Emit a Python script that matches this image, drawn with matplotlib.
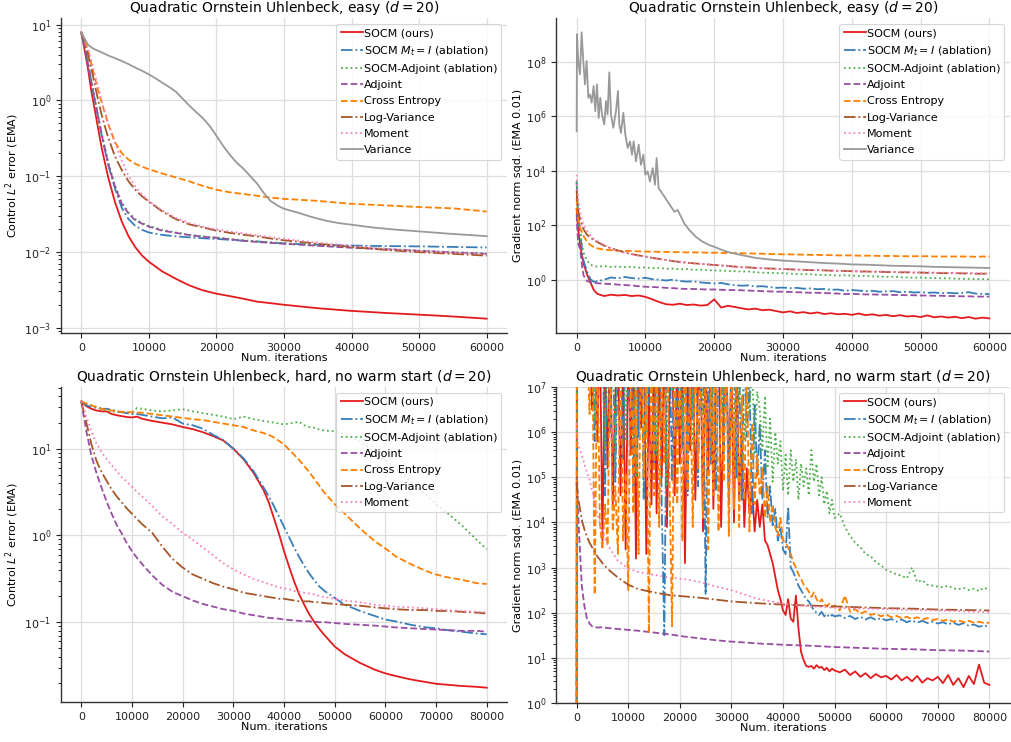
import numpy as np
import matplotlib
matplotlib.use("Agg")
import matplotlib.pyplot as plt

# ---------------------------------------------------------------------------
# Method labels, colours and line styles
# ---------------------------------------------------------------------------
labels = ["SOCM (ours)", "SOCM $M_t=I$ (ablation)", "SOCM-Adjoint (ablation)",
          "Adjoint", "Cross Entropy", "Log-Variance", "Moment", "Variance"]
colors = ["#e41a1c", "#377eb8", "#4daf4a", "#984ea3", "#ff7f00", "#a65628",
          "#f781bf", "#999999"]
styles = ["-", "-.", ":", "--", "--", "-.", ":", "-"]

# ---------------------------------------------------------------------------
# Easy problem: control L2 error (EMA)
# ---------------------------------------------------------------------------
easy_err_iters = [0, 500, 1000, 1500, 2000, 2500, 3000, 3500, 4000, 5000, 6000,
                  7000, 8000, 9000, 10000, 12000, 14000, 16000, 18000, 20000,
                  22000, 24000, 26000, 28000, 30000, 35000, 40000, 45000, 50000,
                  55000, 60000]
easy_err_socm = [7.9, 4.6, 2.6, 1.3, 0.75, 0.42, 0.24, 0.15, 0.095, 0.045, 0.025,
                 0.016, 0.0115, 0.0089, 0.0074, 0.0055, 0.0044, 0.0036, 0.0031, 0.0028,
                 0.0026, 0.0024, 0.0022, 0.0021, 0.0020, 0.0018, 0.00166, 0.00156, 0.00148,
                 0.0014, 0.00131]
easy_err_socm_id = [7.9, 5.0, 3.0, 1.7, 1.0, 0.6, 0.35, 0.22, 0.14, 0.068, 0.038,
                    0.027, 0.022, 0.0195, 0.018, 0.0167, 0.016, 0.0155, 0.0151, 0.0148,
                    0.0144, 0.014, 0.0137, 0.0133, 0.0129, 0.0124, 0.0121, 0.0119, 0.0118,
                    0.0116, 0.0114]
easy_err_socm_adj = [7.9, 5.1, 3.1, 1.8, 1.05, 0.62, 0.37, 0.24, 0.15, 0.075, 0.045,
                     0.033, 0.027, 0.024, 0.022, 0.0195, 0.018, 0.0168, 0.016, 0.0155,
                     0.0148, 0.0142, 0.0137, 0.0133, 0.013, 0.0122, 0.0115, 0.0109, 0.0104,
                     0.0099, 0.0095]
easy_err_adjoint = [7.9, 5.0, 3.0, 1.75, 1.0, 0.6, 0.36, 0.23, 0.145, 0.072, 0.043,
                    0.032, 0.026, 0.0235, 0.0215, 0.019, 0.0178, 0.0166, 0.0158, 0.0153,
                    0.0146, 0.014, 0.0135, 0.0131, 0.0128, 0.012, 0.0113, 0.0108, 0.0103,
                    0.0098, 0.0094]
easy_err_ce = [7.9, 6.0, 4.5, 3.0, 2.0, 1.35, 0.95, 0.68, 0.48, 0.28, 0.2,
               0.165, 0.145, 0.133, 0.123, 0.108, 0.096, 0.085, 0.074, 0.066,
               0.061, 0.058, 0.055, 0.052, 0.050, 0.047, 0.043, 0.041, 0.039,
               0.0375, 0.034]
easy_err_logvar = [7.9, 5.8, 4.0, 2.6, 1.6, 1.0, 0.65, 0.45, 0.32, 0.18, 0.12,
                   0.085, 0.066, 0.054, 0.046, 0.034, 0.027, 0.023, 0.021, 0.019,
                   0.0178, 0.0168, 0.016, 0.015, 0.0142, 0.0128, 0.0116, 0.0106, 0.0099,
                   0.0094, 0.0089]
easy_err_moment = [7.9, 6.2, 4.8, 3.3, 2.2, 1.5, 1.0, 0.7, 0.5, 0.27, 0.16,
                   0.1, 0.073, 0.057, 0.047, 0.035, 0.028, 0.024, 0.0215, 0.0198,
                   0.0185, 0.0175, 0.0165, 0.0156, 0.0148, 0.0132, 0.012, 0.011, 0.0103,
                   0.0097, 0.0093]
easy_err_var_iters = [0, 500, 1000, 1500, 2000,
                      3000, 4000, 5000, 6000, 7000, 8000, 9000, 10000,
                      11000, 12000, 13000, 14000, 15000, 16000, 17000, 18000, 19000, 20000,
                      21000, 22000, 23000, 24000, 25000, 26000, 27000, 28000, 29000, 30000,
                      32000, 34000, 36000, 38000, 40000,
                      43000, 46000, 50000, 55000, 60000]
easy_err_var = [7.9, 6.5, 5.4, 5.0, 4.7,
                4.3, 3.9, 3.6, 3.3, 3.0, 2.7, 2.45, 2.2,
                1.95, 1.7, 1.5, 1.3, 1.05, 0.85, 0.7, 0.58, 0.46, 0.34,
                0.25, 0.19, 0.15, 0.125, 0.10, 0.08, 0.06, 0.047, 0.041, 0.037,
                0.033, 0.029, 0.026, 0.024, 0.0228,
                0.021, 0.0198, 0.0186, 0.0172, 0.0161]

# ---------------------------------------------------------------------------
# Easy problem: gradient norm squared (EMA 0.01), stored as log10 values
# ---------------------------------------------------------------------------
easy_grad_iters = [0, 100, 250, 500, 750, 1000, 1500, 2000, 2500] + list(range(3000, 60001, 1000))
easy_grad_socm_log10 = [
    2.6, 2.2, 1.8, 1.3, 0.9, 0.6, 0.2, -0.1, -0.38,
    -0.52, -0.6, -0.55, -0.58, -0.56, -0.6, -0.58, -0.63, -0.72, -0.82,
    -0.9, -0.92, -0.88, -0.93, -0.91, -0.95, -0.93, -0.72, -1.02, -0.96,
    -1.0, -1.05, -1.09, -1.06, -1.12, -1.1, -1.15, -1.2, -1.16, -1.22,
    -1.19, -1.24, -1.2, -1.26, -1.23, -1.27, -1.25, -1.29, -1.24, -1.3,
    -1.27, -1.32, -1.29, -1.34, -1.3, -1.35, -1.33, -1.37, -1.31, -1.38,
    -1.35, -1.39, -1.36, -1.41, -1.37, -1.43, -1.39, -1.42]
easy_grad_socm_id_log10 = [
    3.6, 3.0, 2.2, 1.8, 1.2, 0.7, 0.3, 0.02, -0.08,
    -0.06, 0.0, 0.08, 0.05, 0.1, 0.06, 0.04, 0.07, 0.02, 0.0,
    -0.03, 0.0, -0.05, -0.07, -0.06, -0.1, -0.12, -0.14, -0.12, -0.17,
    -0.2, -0.22, -0.21, -0.25, -0.24, -0.27, -0.3, -0.29, -0.31, -0.3,
    -0.33, -0.32, -0.35, -0.34, -0.37, -0.36, -0.41, -0.38, -0.4, -0.42,
    -0.41, -0.44, -0.43, -0.42, -0.46, -0.44, -0.47, -0.46, -0.48, -0.47,
    -0.5, -0.48, -0.5, -0.49, -0.46, -0.51, -0.52, -0.53]
easy_grad_socm_adj_log10 = [
    3.6, 2.8, 2.2, 1.88, 1.3, 1.0, 0.7, 0.55, 0.5,
    0.48, 0.5, 0.47, 0.48, 0.46, 0.47, 0.44, 0.45, 0.42, 0.43,
    0.4, 0.41, 0.38, 0.39, 0.36, 0.37, 0.35, 0.34, 0.33, 0.32,
    0.31, 0.3, 0.3, 0.27, 0.26, 0.25, 0.24, 0.24, 0.22, 0.21,
    0.2, 0.2, 0.18, 0.17, 0.17, 0.15, 0.16, 0.15, 0.13, 0.14,
    0.12, 0.12, 0.1, 0.11, 0.09, 0.08, 0.07, 0.08, 0.06, 0.06,
    0.05, 0.05, 0.04, 0.03, 0.03, 0.02, 0.02, 0.01]
easy_grad_adjoint_log10 = [
    2.4, 1.8, 1.3, 1.14, 0.6, 0.16, -0.05, -0.09, -0.12,
    -0.13, -0.15, -0.16, -0.18, -0.2, -0.21, -0.24, -0.26, -0.27, -0.28,
    -0.3, -0.31, -0.33, -0.34, -0.34, -0.35, -0.36, -0.36, -0.37, -0.38,
    -0.38, -0.39, -0.4, -0.41, -0.42, -0.43, -0.44, -0.44, -0.45, -0.46,
    -0.47, -0.48, -0.48, -0.49, -0.5, -0.51, -0.53, -0.52, -0.53, -0.54,
    -0.54, -0.55, -0.55, -0.56, -0.56, -0.57, -0.57, -0.58, -0.58, -0.59,
    -0.59, -0.6, -0.6, -0.61, -0.61, -0.62, -0.62, -0.62]
easy_grad_ce_log10 = [
    3.0, 2.4, 2.2, 1.9, 1.75, 1.6, 1.4, 1.27, 1.2,
    1.15, 1.1, 1.08, 1.06, 1.05, 1.05, 1.04, 1.03, 1.03, 1.02,
    1.02, 1.01, 1.01, 1.0, 1.0, 1.0, 0.99, 0.99, 0.98, 0.98,
    0.975, 0.97, 0.96, 0.96, 0.95, 0.94, 0.94, 0.93, 0.93, 0.92,
    0.92, 0.91, 0.91, 0.9, 0.9, 0.89, 0.89, 0.89, 0.88, 0.88,
    0.88, 0.87, 0.87, 0.87, 0.86, 0.86, 0.86, 0.86, 0.86, 0.85,
    0.85, 0.85, 0.85, 0.85, 0.85, 0.84, 0.85, 0.85]
easy_grad_logvar_log10 = [
    3.3, 2.8, 2.5, 2.2, 2.0, 1.85, 1.65, 1.55, 1.45,
    1.38, 1.25, 1.15, 1.07, 1.0, 0.94, 0.89, 0.85, 0.8, 0.76,
    0.72, 0.68, 0.65, 0.62, 0.6, 0.58, 0.56, 0.54, 0.52, 0.5,
    0.48, 0.46, 0.45, 0.43, 0.42, 0.41, 0.4, 0.39, 0.38, 0.37,
    0.36, 0.35, 0.35, 0.34, 0.33, 0.32, 0.32, 0.31, 0.3, 0.3,
    0.29, 0.29, 0.28, 0.28, 0.27, 0.27, 0.26, 0.26, 0.25, 0.25,
    0.24, 0.24, 0.24, 0.23, 0.23, 0.22, 0.22, 0.22]
easy_grad_moment_log10 = [
    3.85, 3.3, 2.9, 2.5, 2.2, 2.0, 1.8, 1.63, 1.5,
    1.42, 1.28, 1.15, 1.05, 0.98, 0.93, 0.88, 0.84, 0.8, 0.76,
    0.72, 0.69, 0.66, 0.63, 0.61, 0.58, 0.56, 0.54, 0.52, 0.5,
    0.47, 0.45, 0.44, 0.43, 0.42, 0.41, 0.4, 0.39, 0.38, 0.37,
    0.37, 0.36, 0.35, 0.35, 0.34, 0.33, 0.33, 0.32, 0.31, 0.31,
    0.3, 0.3, 0.29, 0.29, 0.28, 0.28, 0.27, 0.27, 0.27, 0.26,
    0.26, 0.25, 0.25, 0.25, 0.24, 0.24, 0.23, 0.23]
easy_grad_var_iters = [0, 50, 240, 485, 727, 970, 1210, 1450, 1700, 1940, 2180, 2470,
                       2710, 2960, 3200, 3440, 3680, 4020, 4270, 4500, 4750, 4990, 5330,
                       5720, 6010, 6200, 6450, 6790, 7080, 7420, 7760, 8050, 8290, 8630,
                       9020, 9350, 9700, 9980, 10320, 10660, 11050, 11390, 11630, 11920,
                       12260, 12750, 13230, 13720, 14200, 14690, 15170, 15660, 16380,
                       17350, 18320, 19290, 20260, 21230, 22200, 24000, 26000, 28000,
                       30000, 32000, 34000, 36000, 38000, 40000, 42000, 44000, 46000,
                       48000, 50000, 52000, 54000, 56000, 58000, 60000]
easy_grad_var_log10 = [5.44, 9.0, 8.02, 7.53, 9.07, 8.02, 7.16, 8.02, 6.67, 6.79, 6.49, 7.1,
                       6.18, 7.16, 5.93, 6.67, 6.06, 5.69, 6.55, 6.06, 7.6, 6.06, 5.57,
                       6.18, 6.92, 5.69, 5.38, 6.12, 5.32, 4.83, 5.07, 4.58, 5.07, 4.34,
                       4.95, 4.21, 4.58, 3.85, 3.97, 3.6, 4.09, 3.48, 4.46, 3.35,
                       3.23, 3.05, 2.86, 2.68, 2.49, 2.55, 2.31, 2.06, 1.82,
                       1.57, 1.39, 1.27, 1.18, 1.08, 1.0, 0.9, 0.8, 0.74,
                       0.7, 0.67, 0.64, 0.61, 0.59, 0.56, 0.55, 0.53, 0.51,
                       0.5, 0.49, 0.47, 0.46, 0.45, 0.44, 0.43]

# ---------------------------------------------------------------------------
# Hard problem (no warm start): control L2 error (EMA), stored as log10 values
# ---------------------------------------------------------------------------
hard_err_iters = [0, 1000, 2000, 3000, 4000, 5000, 6000, 7000, 8000, 9000, 10000, 11000, 12000,
                  14000, 16000, 18000, 20000, 22000, 24000, 26000, 28000, 30000, 32000, 34000, 36000,
                  37000, 38000, 39000, 40000, 41000, 42000, 43000, 44000, 45000, 46000, 47000, 48000,
                  50000, 52000, 55000, 58000, 60000, 62000, 65000, 68000, 70000, 72000, 75000, 78000, 80000]
hard_err_socm_log10 = [
    1.546, 1.49, 1.46, 1.44, 1.43, 1.43, 1.4, 1.385, 1.375, 1.365, 1.36, 1.37, 1.345,
    1.32, 1.3, 1.28, 1.25, 1.225, 1.19, 1.145, 1.095, 1.0, 0.88, 0.72, 0.52,
    0.38, 0.2, 0.02, -0.18, -0.36, -0.53, -0.68, -0.8, -0.91, -1.0, -1.08, -1.15,
    -1.28, -1.37, -1.47, -1.55, -1.59, -1.62, -1.66, -1.69, -1.71, -1.72, -1.735, -1.745, -1.755]
hard_err_socm_id_log10 = [
    1.546, 1.5, 1.48, 1.47, 1.46, 1.46, 1.45, 1.43, 1.42, 1.41, 1.4, 1.4, 1.39,
    1.37, 1.35, 1.36, 1.29, 1.27, 1.23, 1.16, 1.1, 1.0, 0.89, 0.74, 0.55,
    0.45, 0.34, 0.22, 0.1, -0.02, -0.14, -0.25, -0.35, -0.44, -0.52, -0.59, -0.64,
    -0.72, -0.8, -0.87, -0.93, -0.97, -0.99, -1.03, -1.06, -1.07, -1.09, -1.11, -1.13, -1.14]
hard_err_socm_adj_log10 = [
    1.546, 1.52, 1.5, 1.48, 1.46, 1.44, 1.43, 1.425, 1.42, 1.42, 1.42, 1.47, 1.46,
    1.44, 1.43, 1.44, 1.455, 1.43, 1.41, 1.39, 1.37, 1.34, 1.37, 1.34, 1.32,
    1.31, 1.3, 1.29, 1.28, 1.29, 1.3, 1.31, 1.27, 1.25, 1.24, 1.22, 1.21,
    1.2, 1.17, 1.08, 0.96, 0.87, 0.78, 0.62, 0.47, 0.36, 0.27, 0.12, -0.05, -0.16]
hard_err_adjoint_log10 = [
    1.546, 1.2, 0.92, 0.72, 0.55, 0.39, 0.25, 0.12, 0.02, -0.09, -0.18, -0.26, -0.33,
    -0.46, -0.57, -0.65, -0.7, -0.75, -0.79, -0.82, -0.85, -0.87, -0.9, -0.92, -0.94,
    -0.95, -0.955, -0.96, -0.97, -0.975, -0.98, -0.985, -0.99, -0.99, -0.995, -1.0, -1.0,
    -1.01, -1.02, -1.03, -1.04, -1.05, -1.06, -1.07, -1.08, -1.085, -1.09, -1.1, -1.1, -1.11]
hard_err_ce_log10 = [
    1.546, 1.52, 1.5, 1.48, 1.46, 1.45, 1.44, 1.43, 1.425, 1.42, 1.42, 1.415, 1.415,
    1.4, 1.385, 1.37, 1.355, 1.34, 1.33, 1.31, 1.29, 1.27, 1.25, 1.21, 1.18,
    1.16, 1.13, 1.09, 1.05, 0.99, 0.93, 0.87, 0.8, 0.73, 0.65, 0.57, 0.49,
    0.36, 0.25, 0.08, -0.07, -0.15, -0.24, -0.33, -0.41, -0.45, -0.48, -0.51, -0.55, -0.56]
hard_err_logvar_log10 = [
    1.546, 1.3, 1.05, 0.86, 0.73, 0.63, 0.53, 0.45, 0.38, 0.31, 0.25, 0.19, 0.13,
    0.03, -0.13, -0.27, -0.37, -0.45, -0.5, -0.55, -0.59, -0.62, -0.66, -0.68, -0.7,
    -0.71, -0.72, -0.73, -0.73, -0.74, -0.75, -0.76, -0.76, -0.76, -0.77, -0.77, -0.78,
    -0.79, -0.8, -0.81, -0.83, -0.84, -0.85, -0.86, -0.86, -0.87, -0.87, -0.88, -0.89, -0.9]
hard_err_moment_log10 = [
    1.546, 1.37, 1.2, 1.06, 0.96, 0.88, 0.81, 0.74, 0.67, 0.62, 0.56, 0.5, 0.45,
    0.34, 0.22, 0.13, 0.03, -0.05, -0.14, -0.23, -0.32, -0.39, -0.45, -0.5, -0.54,
    -0.56, -0.58, -0.6, -0.61, -0.62, -0.64, -0.65, -0.66, -0.67, -0.68, -0.7, -0.71,
    -0.73, -0.75, -0.77, -0.8, -0.81, -0.82, -0.83, -0.84, -0.85, -0.86, -0.87, -0.88, -0.885]

# ---------------------------------------------------------------------------
# Hard problem: gradient norm squared (EMA 0.01), stored as log10 values
# ---------------------------------------------------------------------------
hard_grad_iters = [0, 50] + list(range(500, 50001, 500)) + list(range(51000, 80001, 1000))
hard_grad_socm_log10 = [
    -1.0, 8.5,
    8.5, 8.0, 8.6, 7.6, 8.2, 6.5, 8.1, 5.8, 8.4, 3.6,
    7.9, 5.2, 8.3, 4.4, 6.8, 8.2, 4.6, 7.5, 3.4, 8.0,
    5.5, 8.1, 3.2, 7.8, 6.1, 8.3, 3.3, 7.0, 4.4, 8.2,
    4.2, 7.6, 5.0, 8.4, 3.9, 6.7, 8.1, 4.6, 7.9, 5.3,
    8.0, 3.1, 7.4, 5.6, 8.3, 4.5, 6.9, 8.2, 3.8, 7.7,
    5.1, 8.1, 4.3, 7.2, 8.4, 3.9, 6.5, 8.0, 4.7, 7.6,
    4.0, 7.5, 4.5, 6.0, 3.9, 5.2, 4.2, 4.8, 3.8, 4.5,
    3.9, 4.4, 3.6, 3.5, 3.3, 3.1, 2.8, 2.5, 2.3, 2.05,
    1.95, 2.3, 1.87, 1.8, 2.38, 1.65, 1.13, 0.95, 0.82, 0.8,
    0.82, 0.76, 0.84, 0.78, 0.8, 0.73, 0.78, 0.7, 0.76, 0.72,
    0.68, 0.74, 0.62, 0.7, 0.58, 0.66, 0.55, 0.64, 0.57, 0.6,
    0.52, 0.62, 0.5, 0.58, 0.48, 0.6, 0.45, 0.55, 0.5, 0.58,
    0.44, 0.62, 0.4, 0.55, 0.35, 0.6, 0.42, 0.85, 0.45, 0.4]
hard_grad_socm_id_log10 = [
    -1.0, 8.5,
    8.6, 8.2, 8.8, 8.0, 7.8, 8.5, 5.8, 8.3, 7.2, 8.6,
    4.6, 8.4, 6.0, 8.1, 4.9, 7.7, 8.5, 5.4, 8.2, 6.8,
    8.4, 4.8, 7.9, 5.9, 8.6, 4.5, 8.0, 6.6, 8.3, 5.2,
    7.7, 8.4, 4.3, 1.5, 7.8, 8.2, 4.9, 8.4, 6.0, 8.1,
    5.6, 8.3, 4.6, 7.9, 6.3, 8.5, 4.8, 7.6, 8.2, 2.4,
    8.0, 5.3, 8.4, 4.7, 7.7, 8.3, 5.5, 8.1, 4.4, 7.8,
    8.2, 5.0, 7.5, 4.5, 8.0, 5.9, 7.2, 4.2, 6.6, 5.0,
    6.2, 4.5, 5.6, 4.1, 4.8, 3.9, 4.3, 3.6, 3.9, 3.4,
    3.3, 4.35, 3.0, 2.9, 2.75, 2.6, 2.5, 2.4, 2.3, 2.25,
    2.15, 2.05, 2.0, 1.95, 2.02, 1.92, 1.97, 1.9, 1.95, 1.92,
    1.94, 1.88, 1.93, 1.86, 1.91, 1.85, 1.9, 1.84, 1.88, 1.83,
    1.86, 1.8, 1.85, 1.79, 1.83, 1.78, 1.82, 1.77, 1.8, 1.76,
    1.79, 1.74, 1.78, 1.73, 1.77, 1.71, 1.74, 1.69, 1.72, 1.68]
hard_grad_socm_adj_log10 = [
    -1.0, 8.5,
    8.8, 8.4, 8.9, 8.6, 8.2, 8.7, 6.2, 8.5, 7.4, 8.8,
    5.6, 8.6, 7.0, 8.3, 5.2, 8.5, 7.6, 8.8, 5.8, 8.4,
    7.3, 8.7, 5.0, 8.2, 7.8, 8.6, 6.0, 8.4, 7.1, 8.8,
    5.5, 8.3, 7.7, 8.6, 4.8, 8.5, 6.9, 8.2, 7.5, 8.7,
    6.1, 8.4, 7.3, 8.9, 5.7, 8.3, 7.8, 8.6, 6.4, 8.5,
    7.2, 8.8, 5.9, 8.4, 7.6, 8.2, 6.3, 8.7, 7.0, 8.5,
    6.0, 7.5, 6.6, 8.0, 5.8, 7.2, 6.4, 7.6, 5.5, 6.9,
    6.5, 5.6, 6.8, 5.2, 6.3, 4.9, 6.0, 5.3, 5.8, 4.7,
    5.5, 4.6, 5.6, 4.9, 5.4, 4.5, 5.3, 4.8, 5.2, 4.6,
    5.6, 4.9, 5.3, 4.6, 5.0, 4.4, 4.7, 4.2, 4.5, 4.1,
    4.2, 3.9, 3.7, 3.55, 3.45, 3.3, 3.25, 3.12, 3.05, 2.95,
    2.9, 2.85, 2.82, 2.76, 3.0, 2.68, 2.72, 2.62, 2.6, 2.58,
    2.56, 2.6, 2.54, 2.52, 2.55, 2.5, 2.53, 2.48, 2.56, 2.49]
hard_grad_ce_log10 = [
    -0.5, 8.5,
    8.6, 8.3, 8.8, 8.1, 6.4, 8.5, 2.4, 8.2, 4.0, 3.4,
    4.4, 3.5, 8.0, 3.8, 4.8, 3.3, 7.9, 3.6, 5.1, 2.5,
    8.2, 4.2, 7.6, 3.3, 8.4, 5.0, 7.7, 1.55, 8.1, 4.6,
    8.3, 3.9, 7.5, 5.3, 8.5, 4.9, 1.7, 8.0, 4.4, 7.8,
    3.6, 8.2, 4.7, 7.4, 3.9, 8.3, 5.2, 7.9, 4.1, 8.0,
    3.4, 7.6, 4.6, 8.4, 3.8, 7.1, 4.9, 8.2, 3.7, 7.7,
    4.3, 8.0, 3.9, 6.8, 4.5, 7.5, 3.8, 6.2, 4.4, 5.5,
    4.6, 5.2, 4.1, 4.8, 4.0, 4.4, 3.9, 3.7, 4.1, 3.6,
    3.55, 3.45, 3.3, 3.12, 3.0, 2.85, 2.75, 2.62, 2.55, 2.47,
    2.35, 2.45, 2.3, 2.22, 2.3, 2.18, 2.15, 2.2, 2.12, 2.16,
    2.05, 2.38, 2.02, 2.08, 1.98, 2.03, 1.95, 1.98, 1.92, 1.96,
    1.9, 1.93, 1.88, 1.91, 1.86, 1.9, 1.85, 1.88, 1.84, 1.86,
    1.82, 1.85, 1.8, 1.83, 1.79, 1.82, 1.78, 1.8, 1.77, 1.78]
hard_grad_smooth_iters = [0, 50, 250, 500, 1000, 1500, 2000, 2500, 3000, 4000, 5000, 6000,
                          8000, 10000, 12000, 15000, 18000, 21000, 24000, 27000, 30000,
                          35000, 40000, 45000, 50000, 55000, 60000, 65000, 70000, 75000, 80000]
hard_grad_adjoint_log10 = [-0.5, 5.2, 4.3, 3.7, 2.6, 2.15, 1.87, 1.76, 1.7, 1.67, 1.68, 1.66,
                           1.64, 1.62, 1.6, 1.56, 1.52, 1.47, 1.43, 1.39, 1.36,
                           1.32, 1.29, 1.27, 1.24, 1.22, 1.2, 1.19, 1.17, 1.16, 1.14]
hard_grad_logvar_log10 = [4.9, 4.8, 4.55, 4.4, 4.05, 3.85, 3.68, 3.55, 3.45, 3.25, 3.1, 2.97,
                          2.78, 2.62, 2.52, 2.45, 2.39, 2.36, 2.33, 2.29, 2.25,
                          2.21, 2.18, 2.16, 2.14, 2.12, 2.1, 2.09, 2.07, 2.06, 2.05]
hard_grad_moment_log10 = [6.2, 6.1, 5.75, 5.65, 5.5, 5.3, 5.1, 4.95, 4.7, 4.2, 3.8, 3.5,
                          3.15, 2.98, 2.9, 2.84, 2.78, 2.74, 2.68, 2.58, 2.5,
                          2.31, 2.2, 2.14, 2.11, 2.09, 2.08, 2.06, 2.05, 2.03, 2.01]

# ---------------------------------------------------------------------------
# Figure
# ---------------------------------------------------------------------------
plt.rcParams["font.family"] = "DejaVu Sans"
plt.rcParams["mathtext.fontset"] = "dejavusans"

W, H = 1011, 742
fig = plt.figure(figsize=(W / 100, H / 100), dpi=100)


def add_panel(left, top, right, bottom):
    ax = fig.add_axes([left / W, 1 - bottom / H, (right - left) / W, (bottom - top) / H])
    ax.set_yscale("log")
    for side in ("top", "right"):
        ax.spines[side].set_visible(False)
    for side in ("left", "bottom"):
        ax.spines[side].set_color("#333333")
        ax.spines[side].set_linewidth(1.0)
    ax.grid(True, which="major", color="#dddddd", linewidth=0.9)
    ax.set_axisbelow(True)
    ax.tick_params(labelsize=8, colors="#222222", length=3.5)
    ax.tick_params(which="minor", length=2)
    return ax


def draw(ax, x, y, i, lw=1.3):
    ax.plot(x, y, color=colors[i], linestyle=styles[i], linewidth=lw, label=labels[i])


def finish(ax, title, ylabel):
    ax.set_title(title, fontsize=10, pad=4)
    ax.set_xlabel("Num. iterations", fontsize=8, labelpad=0.5)
    ax.set_ylabel(ylabel, fontsize=8, labelpad=2)
    leg = ax.legend(loc="upper right", fontsize=8, handlelength=2.0, handletextpad=0.05,
                    labelspacing=0.56, borderpad=0.4, framealpha=0.8, fancybox=True)
    leg.get_frame().set_edgecolor("#cccccc")
    leg.get_frame().set_linewidth(0.8)


def pow10(v):
    return 10.0 ** np.asarray(v)


# Top left: easy, control error
axA = add_panel(61, 18, 507, 333)
for i, series in enumerate([easy_err_socm, easy_err_socm_id, easy_err_socm_adj,
                            easy_err_adjoint, easy_err_ce, easy_err_logvar,
                            easy_err_moment]):
    draw(axA, easy_err_iters, series, i)
draw(axA, easy_err_var_iters, easy_err_var, 7)
finish(axA, "Quadratic Ornstein Uhlenbeck, easy ($d=20$)", "Control $L^2$ error (EMA)")

# Top right: easy, gradient norm
axB = add_panel(556, 18, 1010, 333)
for i, series in enumerate([easy_grad_socm_log10, easy_grad_socm_id_log10,
                            easy_grad_socm_adj_log10, easy_grad_adjoint_log10,
                            easy_grad_ce_log10, easy_grad_logvar_log10,
                            easy_grad_moment_log10]):
    draw(axB, easy_grad_iters, pow10(series), i)
draw(axB, easy_grad_var_iters, pow10(easy_grad_var_log10), 7)
finish(axB, "Quadratic Ornstein Uhlenbeck, easy ($d=20$)", "Gradient norm sqd. (EMA 0.01)")

# Bottom left: hard, control error
axC = add_panel(61, 387, 507, 702)
for i, series in enumerate([hard_err_socm_log10, hard_err_socm_id_log10,
                            hard_err_socm_adj_log10, hard_err_adjoint_log10,
                            hard_err_ce_log10, hard_err_logvar_log10,
                            hard_err_moment_log10]):
    draw(axC, hard_err_iters, pow10(series), i)
finish(axC, "Quadratic Ornstein Uhlenbeck, hard, no warm start ($d=20$)",
       "Control $L^2$ error (EMA)")

# Bottom right: hard, gradient norm
axD = add_panel(556, 387, 1010, 703)
draw(axD, hard_grad_iters, pow10(hard_grad_socm_log10), 0)
draw(axD, hard_grad_iters, pow10(hard_grad_socm_id_log10), 1)
draw(axD, hard_grad_iters, pow10(hard_grad_socm_adj_log10), 2)
draw(axD, hard_grad_smooth_iters, pow10(hard_grad_adjoint_log10), 3)
draw(axD, hard_grad_iters, pow10(hard_grad_ce_log10), 4)
draw(axD, hard_grad_smooth_iters, pow10(hard_grad_logvar_log10), 5)
draw(axD, hard_grad_smooth_iters, pow10(hard_grad_moment_log10), 6)
axD.set_ylim(1, 1e7)
finish(axD, "Quadratic Ornstein Uhlenbeck, hard, no warm start ($d=20$)",
       "Gradient norm sqd. (EMA 0.01)")

fig.savefig("out.png", dpi=100)
